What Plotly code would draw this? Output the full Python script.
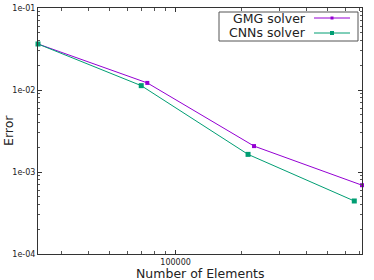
import plotly.graph_objects as go
import math

# Data
gmg_x = [23400, 74200, 229000, 716000]
gmg_y = [0.0364, 0.0122, 0.00207, 0.00069]
cnn_x = [23400, 69600, 215000, 660000]
cnn_y = [0.0364, 0.0113, 0.00164, 0.000443]
series_names = ["GMG solver", "CNNs solver"]
y_tickvals = [1e-4, 1e-3, 1e-2, 1e-1]
y_ticktext = ["1e-04", "1e-03", "1e-02", "1e-01"]
x_tickvals = [100000]
x_ticktext = ["100000"]
x_minor = [30000, 40000, 50000, 60000, 70000, 80000, 90000,
           200000, 300000, 400000, 500000, 600000, 700000]
y_minor = [m * 10 ** e for e in (-4, -3, -2) for m in range(2, 10)]

gmg_color = "#9400d3"
cnn_color = "#009e73"
font_family = "DejaVu Sans, sans-serif"

fig = go.Figure()
fig.add_trace(go.Scatter(x=gmg_x, y=gmg_y, mode="lines+markers", name=series_names[0],
                         line=dict(color=gmg_color, width=1),
                         marker=dict(symbol="square", size=4, color=gmg_color),
                         cliponaxis=False, showlegend=False))
fig.add_trace(go.Scatter(x=cnn_x, y=cnn_y, mode="lines+markers", name=series_names[1],
                         line=dict(color=cnn_color, width=1),
                         marker=dict(symbol="square", size=5, color=cnn_color),
                         cliponaxis=False, showlegend=False))

axis_common = dict(showgrid=False, zeroline=False, showline=True, linecolor="#333333",
                   linewidth=1, mirror="allticks", ticks="inside", ticklen=4,
                   tickcolor="#333333", automargin=False,
                   tickfont=dict(family=font_family, size=8, color="#222"))

fig.update_xaxes(type="log", range=[math.log10(23400), math.log10(716000)],
                 tickmode="array", tickvals=x_tickvals, ticktext=x_ticktext,
                 minor=dict(tickmode="array", tickvals=x_minor, ticks="inside", ticklen=3,
                            tickcolor="#555555"),
                 **axis_common)
fig.update_yaxes(type="log", range=[-4, -1],
                 tickmode="array", tickvals=y_tickvals, ticktext=y_ticktext,
                 minor=dict(tickmode="array", tickvals=y_minor, ticks="inside", ticklen=2,
                            tickcolor="#555555"),
                 **axis_common)

# Axis titles
fig.add_annotation(text="Number of Elements", xref="paper", yref="paper", x=0.5, y=0,
                   yshift=-19, yanchor="middle", showarrow=False,
                   font=dict(family=font_family, size=12.5, color="#222"))
fig.add_annotation(text="Error", xref="paper", yref="paper", x=0, y=0.5, xshift=-30,
                   textangle=-90, showarrow=False, xanchor="center",
                   font=dict(family=font_family, size=12.5, color="#222"))

# Custom gnuplot-style legend (text on left, sample on right)
W, H = 324, 246  # plot area px
def px(xp):
    return (xp - 38) / W
def py(yp):
    return 1 - (yp - 8) / H

fig.add_shape(type="rect", xref="paper", yref="paper", x0=px(219), x1=px(358),
              y0=py(41), y1=py(12), line=dict(color="#555555", width=1),
              fillcolor="white", layer="above")
for i, (name, col, ms) in enumerate(zip(series_names, [gmg_color, cnn_color], [3, 4])):
    yc = 18 + 15 * i
    fig.add_annotation(text=name, xref="paper", yref="paper", x=px(308), y=py(yc),
                       xanchor="right", yanchor="middle", showarrow=False,
                       font=dict(family=font_family, size=12.5, color="#222"))
    fig.add_shape(type="line", xref="paper", yref="paper", x0=px(314), x1=px(350),
                  y0=py(yc), y1=py(yc), line=dict(color=col, width=1), layer="above")
    fig.add_shape(type="rect", xref="paper", yref="paper", x0=px(332 - ms / 2), x1=px(332 + ms / 2),
                  y0=py(yc + ms / 2), y1=py(yc - ms / 2), line=dict(color=col, width=0),
                  fillcolor=col, layer="above")

fig.update_layout(width=374, height=280, margin=dict(l=38, r=12, t=8, b=26),
                  plot_bgcolor="white", paper_bgcolor="white", showlegend=False,
                  font=dict(family=font_family))

fig.write_html("out.html", config={"displayModeBar": False},
               post_script="document.body.style.margin='0';document.body.style.overflow='hidden';")
